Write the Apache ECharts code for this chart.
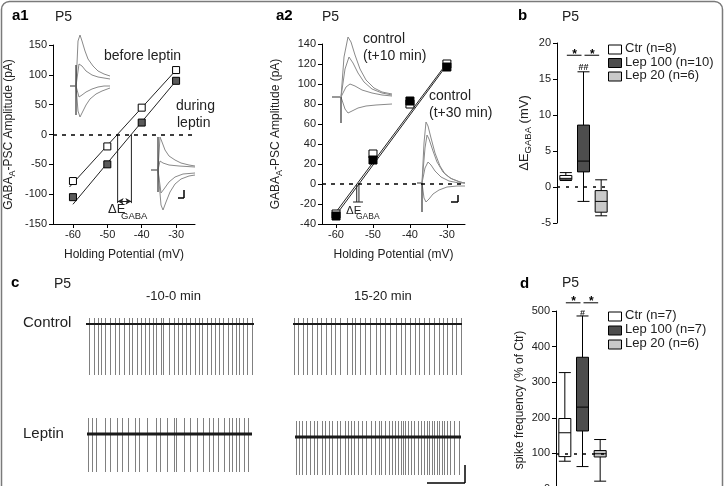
<!DOCTYPE html>
<html>
<head>
<meta charset="utf-8">
<script src="https://cdn.jsdelivr.net/npm/echarts@6/dist/echarts.min.js"></script>
<style>html,body{margin:0;padding:0;background:#fff}#main{width:725px;height:486px}</style>
</head>
<body>
<div id="main"></div>
<script>
// ---- panel a1 / a2: I-V curves ----
var potTicks = [-60, -50, -40, -30];
var beforeLeptin = [-78, -20, 45, 108];
var duringLeptin = [-105, -50, 20, 90];
var beforeFit = [[-61, -88], [-30, 108]];
var duringFit = [[-60, -117], [-30, 90]];
var eGabaA1 = [-47.0, -43.0];
var control10 = [-30, 30, 80, 120];
var control30 = [-32, 24, 83, 117];
var control10Fit = [[-61, -33], [-30, 121]];
var control30Fit = [[-61, -36], [-30, 119]];
var eGabaA2 = [-54.4, -53.8];

// inset traces (time, current)
var a1TopStub = [[2, 0], [7, 0]];
var a1TopArtifact = [[8, 21], [8, -29]];
var a1TopTraces = [
  [[8, 0], [10, 45], [12, 51], [14, 45], [17, 35], [20, 27], [25, 20], [30, 15], [36, 12], [42, 10]],
  [[8, 0], [11, 22], [14, 20], [18, 15], [24, 11], [30, 9], [36, 8], [42, 7]],
  [[8, 0], [11, -11], [14, -9], [18, -6], [24, -3], [30, -1], [36, 0], [42, 0]],
  [[8, 0], [10, -25], [12, -31], [15, -25], [18, -19], [22, -13], [28, -8], [34, -5], [42, -2]]
];
var a1BotStub = [[2, 0], [8, 0]];
var a1BotArtifact = [[9, 33], [9, -22]];
var a1BotTraces = [
  [[9, 0], [11, 33], [13, 28], [16, 20], [20, 14], [26, 10], [32, 7], [40, 5], [46, 4]],
  [[9, 0], [11, 9], [14, 7], [20, 5], [30, 4], [46, 3]],
  [[9, 0], [12, -23], [15, -19], [20, -12], [26, -7], [34, -4], [46, -3]],
  [[9, 0], [12, -35], [14, -40], [17, -32], [21, -22], [26, -14], [32, -9], [40, -6], [46, -5]]
];
var a2TopStub = [[2, 0], [10, 0]];
var a2TopArtifact = [[11, 0], [11, -26]];
var a2TopTraces = [
  [[11, 0], [14, 40], [18, 60], [21, 55], [25, 42], [30, 28], [36, 17], [44, 9], [52, 5], [62, 3]],
  [[11, 0], [15, 28], [19, 40], [23, 34], [28, 24], [34, 15], [42, 8], [52, 4], [62, 2]],
  [[11, 0], [16, 10], [20, 13], [25, 11], [32, 7], [42, 4], [52, 2], [62, 1]],
  [[11, 0], [15, -12], [18, -16], [22, -14], [28, -11], [36, -9], [46, -8], [62, -7]]
];
var a2BotStub = [[2, 0], [7, 0]];
var a2BotArtifact = [[7, 0], [7, -29]];
var a2BotTraces = [
  [[7, 0], [9, 40], [11, 61], [13, 57], [16, 45], [20, 30], [25, 17], [30, 9], [37, 4], [45, 1], [50, 0]],
  [[7, 0], [10, 35], [12, 48], [14, 44], [18, 32], [22, 21], [28, 11], [35, 5], [45, 1], [50, 0]],
  [[7, 0], [10, 15], [13, 21], [16, 18], [20, 12], [26, 6], [34, 2], [44, 0], [50, 0]],
  [[7, 0], [9, -15], [11, -19], [14, -16], [18, -11], [24, -7], [32, -4], [42, -3], [50, -3]]
];

// ---- panel b / d: box plots [min, Q1, median, Q3, max] ----
var groups = ['Ctr', 'Lep 100', 'Lep 20'];
var nB = [8, 10, 6];
var nD = [7, 7, 6];
var dEgaba = [[0.9, 1.0, 1.2, 1.6, 2.0], [-2.0, 2.1, 3.6, 8.6, 16.0], [-4.0, -3.5, -2.0, -0.5, 1.0]];
var spikeFreq = [[78, 91, 158, 198, 327], [63, 163, 230, 370, 486], [22, 90, 99, 108, 139]];
var sigB = [[0, 1, 18.3], [1, 2, 18.3]];
var hashB = [[1, 16.6, '##']];
var sigD = [[0, 1, 523], [1, 2, 523]];
var hashD = [[1, 494, '#']];

// ---- panel c: spike times (s) in each 300 s window ----
var ctrlBefore = [5, 15, 21, 27, 34, 42, 51, 59, 67, 76, 83, 91, 99, 105, 112, 119, 125, 134, 138, 148, 157, 164, 171, 179, 186, 194, 201, 208, 216, 224, 231, 237, 244, 254, 261, 268, 274, 280, 288, 296];
var ctrlAfter = [2, 9, 17, 25, 34, 42, 49, 58, 67, 74, 83, 96, 104, 110, 119, 128, 137, 147, 154, 164, 173, 182, 191, 198, 207, 216, 224, 233, 241, 251, 259, 266, 274, 282, 289, 298];
var lepBefore = [2, 9, 16, 33, 42, 55, 64, 75, 87, 95, 109, 125, 133, 145, 158, 162, 176, 188, 200, 210, 221, 229, 239, 249, 258, 264, 271, 277, 285, 292];
var lepAfter = [2, 7, 13, 20, 28, 34, 40, 48, 54, 61, 67, 75, 81, 90, 96, 101, 107, 114, 121, 129, 138, 145, 151, 156, 163, 169, 175, 180, 186, 191, 195, 199, 204, 209, 215, 222, 228, 234, 239, 243, 248, 252, 257, 261, 266, 270, 275, 281, 288, 296];
var ctrlSpikeRange = [6, -51];
var lepSpikeRange = [16, -38];

var FONT = 'Liberation Sans, Arial, Helvetica, sans-serif';
var chart = echarts.init(document.getElementById('main'));

function txt(extra) {
  return Object.assign({fontFamily: FONT, color: '#222'}, extra || {});
}
function hidden(gi, min, max) {
  return {type: 'value', gridIndex: gi, show: false, min: min, max: max, splitLine: {show: false}};
}
function xPot(gi, min, max) {
  return {
    type: 'value', gridIndex: gi, min: min, max: max,
    axisLine: {show: true, onZero: false, lineStyle: {color: '#000', width: 1}},
    axisTick: {show: true, customValues: potTicks, length: 4, lineStyle: {color: '#000'}},
    axisLabel: txt({customValues: potTicks, fontSize: 11, margin: 5}),
    splitLine: {show: false},
    name: 'Holding Potential (mV)', nameLocation: 'middle', nameGap: 25,
    nameTextStyle: txt({fontSize: 12})
  };
}
function yVal(gi, min, max, step, name, gap, rich) {
  return {
    type: 'value', gridIndex: gi, min: min, max: max, interval: step, position: 'left',
    axisLine: {show: true, onZero: false, lineStyle: {color: '#000', width: 1}},
    axisTick: {show: true, length: 4, lineStyle: {color: '#000'}},
    axisLabel: txt({fontSize: 11, margin: 6}),
    splitLine: {show: false},
    name: name, nameLocation: 'middle', nameRotate: 90, nameGap: gap,
    nameTextStyle: {rich: rich}
  };
}
var gabaRich = {
  a: {fontFamily: FONT, fontSize: 12, color: '#222', lineHeight: 16},
  s: {fontFamily: FONT, fontSize: 9, color: '#222', lineHeight: 8, verticalAlign: 'bottom'}
};
var dERich = {
  a: {fontFamily: FONT, fontSize: 13, color: '#222', lineHeight: 17},
  s: {fontFamily: FONT, fontSize: 9.5, color: '#222', lineHeight: 8, verticalAlign: 'bottom'}
};

function line(data, gi, color, width, z) {
  return {type: 'line', xAxisIndex: gi, yAxisIndex: gi, data: data, showSymbol: false, symbol: 'none',
    lineStyle: {color: color, width: width}, z: z || 2, silent: true};
}
function squares(xs, ys, gi, fill, size) {
  return {type: 'scatter', xAxisIndex: gi, yAxisIndex: gi, symbol: 'rect', symbolSize: size,
    data: xs.map(function (x, i) { return [x, ys[i]]; }),
    itemStyle: {color: fill, borderColor: '#000', borderWidth: 1, opacity: 1}, z: 5, silent: true};
}
function zeroLine(gi, y, dash) {
  return {type: 'line', xAxisIndex: gi, yAxisIndex: gi, data: [], silent: true, z: 1,
    markLine: {silent: true, symbol: 'none', label: {show: false}, animation: false,
      lineStyle: {color: '#000', width: 1.5, type: dash}, data: [{yAxis: y}]}};
}
function insetSeries(gi, stub, artifact, traces) {
  var out = [line(stub, gi, '#333', 1.2), line(artifact, gi, '#333', 1.2, 3)];
  traces.forEach(function (t) { out.push(line(t, gi, '#8a8a8a', 1)); });
  return out;
}
function spikes(times, range, gi) {
  return {type: 'custom', xAxisIndex: gi, yAxisIndex: gi, silent: true, z: 2,
    data: times.map(function (t) { return [t, range[1], range[0]]; }),
    encode: {x: 0, y: [1, 2]},
    renderItem: function (params, api) {
      var a = api.coord([api.value(0), api.value(2)]);
      var b = api.coord([api.value(0), api.value(1)]);
      var x = Math.round(a[0]) + 0.5;
      return {type: 'line', shape: {x1: x, y1: a[1], x2: x, y2: b[1]},
        style: {stroke: '#808080', lineWidth: 1}};
    }};
}
function sigSeries(sig, gi) {
  return {type: 'custom', xAxisIndex: gi, yAxisIndex: gi, clip: false, silent: true, z: 6,
    data: sig, encode: {x: 0, y: 2},
    renderItem: function (params, api) {
      var p1 = api.coord([api.value(0), api.value(2)]);
      var p2 = api.coord([api.value(1), api.value(2)]);
      return {type: 'group', children: [
        {type: 'line', shape: {x1: p1[0] + 1, y1: p1[1], x2: p2[0] - 2, y2: p2[1]}, style: {stroke: '#000', lineWidth: 1}},
        {type: 'text', style: {text: '*', x: (p1[0] + p2[0]) / 2, y: p1[1] + 5, align: 'center', verticalAlign: 'bottom',
          font: 'bold 12px ' + FONT, fill: '#000'}}
      ]};
    }};
}
function hashSeries(marks, gi) {
  return {type: 'custom', xAxisIndex: gi, yAxisIndex: gi, clip: false, silent: true, z: 6,
    data: marks.map(function (m) { return [m[0], m[1]]; }), encode: {x: 0, y: 1},
    renderItem: function (params, api) {
      var p = api.coord([api.value(0), api.value(1)]);
      return {type: 'text', style: {text: marks[params.dataIndex][2], x: p[0], y: p[1], align: 'center',
        verticalAlign: 'middle', font: 'bold 9px ' + FONT, fill: '#222'}};
    }};
}
var boxFill = ['#ffffff', '#4d4d4d', '#c9c9c9'];
function boxSeries(data, gi) {
  return {type: 'boxplot', xAxisIndex: gi, yAxisIndex: gi, boxWidth: [12, 12], silent: true, z: 4,
    data: data.map(function (v, i) {
      return {value: v, itemStyle: {color: boxFill[i], borderColor: '#000', borderWidth: 1}};
    })};
}
function catAxis(gi) {
  return {type: 'category', gridIndex: gi, data: groups, show: false};
}
function legendGraphic(counts, yCenters) {
  var els = [];
  groups.forEach(function (g, i) {
    els.push({type: 'rect', left: 608, top: yCenters[i] - 4.5, shape: {width: 13, height: 9},
      style: {fill: boxFill[i], stroke: '#000', lineWidth: 1}});
    els.push({type: 'text', left: 625, top: yCenters[i] - 7,
      style: {text: g + ' (n=' + counts[i] + ')', font: '13px ' + FONT, fill: '#222'}});
  });
  return els;
}
function label(text, x, y, size, bold) {
  return {type: 'text', left: x, top: y, silent: true,
    style: {text: text, font: (bold ? 'bold ' : '') + size + 'px ' + FONT, fill: bold ? '#000' : '#222'}};
}
function segment(x1, y1, x2, y2) {
  return {type: 'line', silent: true, shape: {x1: x1, y1: y1, x2: x2, y2: y2}, style: {stroke: '#000', lineWidth: 1.5}};
}

var grids = [
  {left: 53, top: 45, width: 142, height: 179},   // 0 a1
  {left: 68, top: 30, width: 44, height: 90},     // 1 a1 inset top
  {left: 149, top: 135, width: 48, height: 80},   // 2 a1 inset bottom
  {left: 322, top: 44, width: 143, height: 180},  // 3 a2
  {left: 330, top: 33, width: 64, height: 95},    // 4 a2 inset top
  {left: 415, top: 118, width: 52, height: 96},   // 5 a2 inset bottom
  {left: 557, top: 43, width: 53, height: 180},   // 6 b
  {left: 556, top: 311, width: 53, height: 178},  // 7 d
  {left: 86, top: 304, width: 168, height: 75},   // 8 control before
  {left: 293, top: 304, width: 169, height: 75},  // 9 control after
  {left: 87, top: 414, width: 165, height: 75},   // 10 leptin before
  {left: 295, top: 417, width: 166, height: 75}   // 11 leptin after
];
grids.forEach(function (g) { g.outerBoundsMode = 'none'; g.containLabel = false; });

var xAxes = [
  xPot(0, -65.8, -24.5), hidden(1, 0, 44), hidden(2, 0, 48),
  xPot(3, -63.8, -25.1), hidden(4, 0, 64), hidden(5, 0, 52),
  catAxis(6), catAxis(7),
  hidden(8, 0, 300), hidden(9, 0, 300), hidden(10, 0, 300), hidden(11, 0, 300)
];
var yAxes = [
  yVal(0, -150, 150, 50, '{a|GABA}{s|A}{a|-PSC Amplitude (pA)}', 36, gabaRich),
  hidden(1, -34, 56), hidden(2, -45, 35),
  yVal(3, -40, 140, 20, '{a|GABA}{s|A}{a|-PSC Amplitude (pA)}', 38, gabaRich),
  hidden(4, -31, 64), hidden(5, -31, 65),
  yVal(6, -5, 20, 5, '{a|ΔE}{s|GABA}{a| (mV)}', 24, dERich),
  yVal(7, 0, 500, 100, '{a|spike frequency (% of Ctr)}', 28, gabaRich),
  hidden(8, -55, 20), hidden(9, -55, 20), hidden(10, -55, 20), hidden(11, -55, 20)
];

var series = [];
// a1
series.push(zeroLine(0, 0, [4, 5]));
series.push(line(beforeFit, 0, '#222', 1));
series.push(line(duringFit, 0, '#222', 1));
series.push(line([[eGabaA1[0], 0], [eGabaA1[0], -115]], 0, '#222', 1));
series.push(line([[eGabaA1[1], 0], [eGabaA1[1], -115]], 0, '#222', 1));
series.push({type: 'line', xAxisIndex: 0, yAxisIndex: 0, data: [], silent: true,
  markLine: {silent: true, animation: false, symbol: ['arrow', 'arrow'], symbolSize: [5, 6], label: {show: false},
    lineStyle: {color: '#222', width: 1, type: 'solid'},
    data: [[{coord: [eGabaA1[0], -112]}, {coord: [eGabaA1[1], -112]}]]}});
series.push(squares(potTicks, beforeLeptin, 0, '#ffffff', 7));
series.push(squares(potTicks, duringLeptin, 0, '#5a5a5a', 7));
series = series.concat(insetSeries(1, a1TopStub, a1TopArtifact, a1TopTraces));
series = series.concat(insetSeries(2, a1BotStub, a1BotArtifact, a1BotTraces));
// a2
series.push(zeroLine(3, 0, [4, 5]));
series.push(line(control10Fit, 3, '#222', 1));
series.push(line(control30Fit, 3, '#222', 1));
series.push(line([[eGabaA2[0], 0], [eGabaA2[0], -18]], 3, '#222', 1));
series.push(line([[eGabaA2[1], 0], [eGabaA2[1], -18]], 3, '#222', 1));
series.push(line([[-55.4, -18], [-52.7, -18]], 3, '#222', 1));
series.push(squares(potTicks, control10, 3, '#ffffff', 8));
series.push(squares(potTicks, control30, 3, '#000000', 8));
series = series.concat(insetSeries(4, a2TopStub, a2TopArtifact, a2TopTraces));
series = series.concat(insetSeries(5, a2BotStub, a2BotArtifact, a2BotTraces));
// b
series.push(zeroLine(6, 0, [3, 6]));
series.push(boxSeries(dEgaba, 6));
series.push(sigSeries(sigB, 6));
series.push(hashSeries(hashB, 6));
// d
series.push(zeroLine(7, 100, [3, 6]));
series.push(boxSeries(spikeFreq, 7));
series.push(sigSeries(sigD, 7));
series.push(hashSeries(hashD, 7));
// c
[[ctrlBefore, ctrlSpikeRange, 8, 2], [ctrlAfter, ctrlSpikeRange, 9, 2],
 [lepBefore, lepSpikeRange, 10, 3], [lepAfter, lepSpikeRange, 11, 3]].forEach(function (t) {
  series.push(spikes(t[0], t[1], t[2]));
  series.push(line([[0, 0], [300, 0]], t[2], '#1a1a1a', t[3], 4));
});

var graphics = [
  {type: 'rect', silent: true, shape: {x: 1.5, y: 1.5, width: 721, height: 520, r: 8},
    style: {fill: 'none', stroke: '#7a7a7a', lineWidth: 1.5}},
  label('a1', 12, 8, 15, true), label('P5', 55, 10, 14),
  label('a2', 276, 8, 15, true), label('P5', 322, 10, 14),
  label('b', 518, 8, 15, true), label('P5', 562, 10, 14),
  label('c', 11, 275, 15, true), label('P5', 54, 277, 14),
  label('d', 520, 276, 15, true), label('P5', 562, 276, 14),
  label('before leptin', 104, 49, 14), label('during', 176, 99, 14), label('leptin', 177, 116, 14),
  label('control', 363, 32, 14), label('(t+10 min)', 363, 49, 14),
  label('control', 429, 89, 14), label('(t+30 min)', 429, 106, 14),
  label('ΔE', 108, 203, 13), label('GABA', 121, 211, 9.5),
  label('ΔE', 346, 205, 11.5), label('GABA', 356, 212, 8.5),
  label('-10-0 min', 146, 290, 13), label('15-20 min', 354, 290, 13),
  label('Control', 23, 315, 15), label('Leptin', 23, 426, 15),
  segment(184, 190, 184, 198), segment(178, 198, 184, 198),
  segment(458, 195, 458, 202), segment(451, 202, 458, 202),
  segment(427, 483, 465, 483), segment(465, 465, 465, 483)
];
graphics = graphics.concat(legendGraphic(nB, [49, 62.5, 76]));
graphics = graphics.concat(legendGraphic(nD, [316, 330, 344]));

var option = {
  animation: false,
  backgroundColor: '#ffffff',
  textStyle: {fontFamily: FONT},
  grid: grids,
  xAxis: xAxes,
  yAxis: yAxes,
  series: series,
  graphic: graphics
};
chart.setOption(option);
</script>
</body>
</html>
